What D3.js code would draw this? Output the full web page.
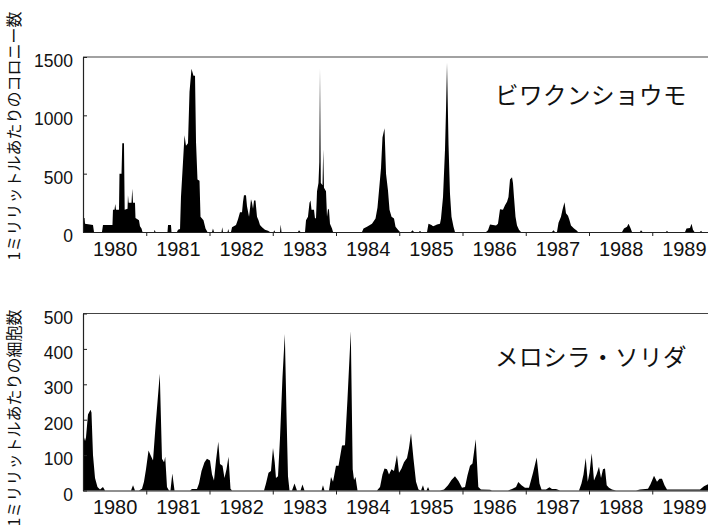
<!DOCTYPE html>
<html>
<head>
<meta charset="utf-8">
<script src="https://d3js.org/d3.v7.min.js"></script>
<style>
  body { margin: 0; background: #fff; }
  svg { display: block; background: #fff; }
  .tick text { font-family: "Liberation Sans", Arial, sans-serif; fill: #111; }
  .jp { font-family: "Noto Sans CJK JP", sans-serif; fill: #111; }
</style>
</head>
<body>
<div id="container"></div>
<script>
// ビワクンショウモ: colonies per ml (decimal year / value)
var colonyYear = [
  1980.000,1980.024,1980.032,1980.158,1980.174,1980.300,1980.316,1980.466,1980.474,1980.498,1980.510,1980.522,1980.569,1980.577,1980.609,1980.621,1980.648,1980.659,1980.704,1980.711,1980.722,1980.767,1980.779,1980.791,1980.822,1980.830,1980.885,1980.901,1980.925,1980.941,
  1981.123,1981.134,1981.146,1981.336,1981.344,1981.391,1981.399,1981.486,1981.502,1981.534,1981.549,1981.581,1981.605,1981.628,1981.660,1981.684,1981.715,1981.747,1981.771,1981.787,1981.810,1981.842,1981.858,1981.905,1981.937,1981.968,
  1982.040,1982.055,1982.071,1982.190,1982.202,1982.213,1982.285,1982.297,1982.308,1982.340,1982.356,1982.419,1982.451,1982.482,1982.514,1982.530,1982.545,1982.577,1982.593,1982.625,1982.640,1982.656,1982.672,1982.688,1982.704,1982.727,1982.751,1982.775,1982.798,1982.830,1982.877,1982.925,1982.957,
  1983.012,1983.024,1983.036,1983.115,1983.126,1983.138,1983.399,1983.415,1983.439,1983.510,1983.526,1983.557,1983.581,1983.597,1983.613,1983.652,1983.668,1983.684,1983.700,1983.723,1983.736,1983.747,1983.760,1983.787,1983.798,1983.810,1983.842,1983.858,1983.874,1983.889,1983.905,1983.937,1983.953,
  1984.411,1984.435,1984.490,1984.569,1984.625,1984.656,1984.680,1984.712,1984.735,1984.767,1984.791,1984.822,1984.846,1984.878,1984.917,1984.941,1984.980,1985.012,
  1985.186,1985.209,1985.233,1985.312,1985.328,1985.344,1985.439,1985.462,1985.510,1985.534,1985.565,1985.597,1985.644,1985.660,1985.692,1985.723,1985.739,1985.755,1985.779,1985.802,1985.826,1985.858,1985.881,
  1986.372,1986.403,1986.435,1986.482,1986.530,1986.561,1986.593,1986.640,1986.672,1986.704,1986.727,1986.751,1986.783,1986.798,1986.814,1986.838,1986.862,1986.893,1986.925,
  1987.415,1987.439,1987.462,1987.494,1987.518,1987.557,1987.581,1987.613,1987.636,1987.668,1987.692,1987.715,1987.763,1987.810,1987.826,
  1988.522,1988.553,1988.601,1988.625,1988.656,1988.680,1988.806,1988.822,1988.846,
  1989.217,1989.233,1989.249,1989.518,1989.542,1989.597,1989.621,1989.644,1989.668,1989.755,1989.771,1989.787,1990.000
];
var colonyCount = [
  120,120,70,60,0,0,60,60,190,190,240,190,190,500,500,760,760,190,200,315,250,250,370,250,250,120,100,50,30,0,
  0,20,0,0,60,60,0,0,20,25,300,600,830,740,760,1200,1400,1340,1340,770,450,440,130,100,30,0,
  0,30,0,0,40,0,0,25,0,0,40,60,110,170,170,260,315,315,220,130,200,280,250,200,270,270,130,100,60,40,20,10,0,
  0,15,0,0,65,0,0,15,0,0,100,130,250,270,190,190,115,120,350,420,600,1400,420,400,710,380,350,130,200,190,70,30,0,
  0,30,45,70,115,210,355,550,810,890,500,355,190,130,115,45,20,0,
  0,15,0,0,10,0,0,70,60,50,55,65,70,115,300,700,1040,1450,750,330,130,45,0,
  0,15,65,60,55,70,195,190,230,260,300,450,470,420,300,130,55,20,0,
  0,15,0,0,80,130,190,255,160,140,100,55,30,10,0,
  0,30,45,70,35,0,0,15,0,
  0,10,0,0,30,35,70,20,0,0,10,0,0
];

// メロシラ・ソリダ: cells per ml (decimal year / value)
var cellYear = [
  1980.000,1980.032,1980.047,1980.079,1980.119,1980.134,1980.158,1980.190,1980.229,1980.269,1980.316,1980.348,
  1980.759,1980.791,1980.822,
  1980.885,1980.933,1980.964,1980.996,1981.036,1981.067,1981.107,1981.146,1981.214,1981.249,1981.281,1981.300,1981.328,1981.360,1981.383,1981.412,1981.447,
  1981.692,1981.723,1981.802,1981.834,1981.874,1981.921,1981.960,1982.008,1982.040,1982.071,1982.103,1982.139,1982.166,1982.206,1982.237,1982.269,1982.300,1982.332,1982.356,
  1982.862,1982.893,1982.933,1982.972,1983.004,1983.031,1983.051,1983.083,1983.115,1983.154,1983.191,1983.217,1983.241,1983.265,
  1983.304,1983.344,1983.383,1983.439,1983.470,1983.502,1983.771,1983.794,1983.818,
  1983.889,1983.921,1983.953,1984.000,1984.040,1984.095,1984.142,1984.182,1984.234,1984.264,1984.285,1984.308,1984.340,
  1984.648,1984.696,1984.735,1984.767,1984.806,1984.838,1984.877,1984.917,1984.964,1984.996,1985.036,1985.075,1985.123,1985.154,1985.186,1985.225,1985.265,1985.304,1985.344,1985.375,1985.399,1985.431,1985.455,1985.478,
  1985.644,1985.708,1985.771,1985.826,1985.881,1985.937,1985.992,1986.040,1986.079,1986.119,1986.158,1986.209,1986.250,1986.292,1986.435,1986.466,
  1986.719,1986.783,1986.846,1986.882,1986.933,1986.988,1987.051,1987.115,1987.173,1987.217,1987.249,1987.320,1987.375,1987.415,1987.478,1987.542,
  1987.842,1987.881,1987.913,1987.948,1987.980,1988.008,1988.043,1988.079,1988.119,1988.158,1988.190,1988.221,1988.253,1988.280,1988.316,1988.364,1988.427,
  1988.743,1988.806,1988.933,1988.972,1989.028,1989.075,1989.115,1989.154,1989.194,1989.233,1989.755,1989.818,1989.913
];
var cellCount = [
  160,140,150,215,228,220,100,35,10,3,10,0,
  0,15,0,
  0,5,25,60,113,100,85,180,330,90,80,95,10,0,0,48,0,
  0,4,4,20,55,80,90,85,45,28,85,138,75,70,35,60,95,5,0,
  0,20,50,55,120,80,35,40,150,320,442,220,40,0,
  0,20,0,0,17,0,0,15,0,
  0,38,25,70,70,127,128,260,450,60,30,38,0,
  0,10,45,62,60,45,60,55,100,50,62,80,92,120,162,90,25,3,0,15,0,0,10,0,
  0,3,15,30,40,27,8,10,43,70,76,145,10,3,2,0,
  0,4,10,24,15,8,8,50,93,20,3,3,9,4,4,0,
  0,20,45,92,25,50,105,28,45,67,35,60,62,15,8,3,0,
  0,3,5,18,42,25,33,33,15,3,3,12,20
];

var yearLabels = [1980, 1981, 1982, 1983, 1984, 1985, 1986, 1987, 1988, 1989];
var yearBreaks = [1981, 1982, 1983, 1984, 1985, 1986, 1987, 1988, 1989];
var colonyTicks = [0, 500, 1000, 1500];
var cellTicks = [0, 100, 200, 300, 400, 500];
var panelNames = ["ビワクンショウモ", "メロシラ・ソリダ"];
var axisTitles = ["1ミリリットルあたりのコロニー数", "1ミリリットルあたりの細胞数"];

var width = 708;
var height = 526;

var svg = d3.select("#container")
            .append("svg")
            .attr("width", width)
            .attr("height", height);

var xScale = d3.scaleLinear()
               .domain([1980, 1990])
               .range([83, 715.5]);

function drawPanel(years, counts, ticks, yMax, yBottom, yTop, name, title, nameY, titleY) {
  var yScale = d3.scaleLinear()
                 .domain([0, yMax])
                 .range([yBottom, yTop]);

  var data = years.map(function(d, i) { return [d, counts[i]]; });

  var area = d3.area()
               .x(function(d) { return xScale(d[0]); })
               .y0(yBottom)
               .y1(function(d) { return yScale(d[1]); });

  svg.append("path")
     .datum(data)
     .attr("d", area)
     .attr("fill", "#000");

  // frame top line
  svg.append("line")
     .attr("x1", xScale(1980)).attr("x2", width)
     .attr("y1", yScale(yMax)).attr("y2", yScale(yMax))
     .attr("stroke", "#444")
     .attr("stroke-width", 1.2);

  // x axis: ticks at year starts, labels mid-year
  var xAxis = d3.axisBottom(xScale)
                .tickValues(yearBreaks)
                .tickSize(4)
                .tickSizeOuter(0)
                .tickFormat("");
  var gx = svg.append("g")
              .attr("transform", "translate(0," + yBottom + ")")
              .call(xAxis);
  gx.select(".domain").attr("stroke", "#222").attr("stroke-width", 1.2);
  gx.selectAll(".tick line").attr("stroke", "#222");

  var xLabels = d3.axisBottom(xScale)
                  .tickValues(yearLabels.map(function(y) { return y + 0.5; }))
                  .tickSize(0)
                  .tickFormat(function(d) { return String(Math.floor(d)); });
  var gl = svg.append("g")
              .attr("transform", "translate(0," + yBottom + ")")
              .call(xLabels);
  gl.select(".domain").remove();
  gl.selectAll("text")
    .attr("y", 23.5)
    .attr("dy", 0)
    .style("font-size", "20px");

  // y axis: inward ticks
  var yAxis = d3.axisLeft(yScale)
                .tickValues(ticks)
                .tickSize(-4)
                .tickSizeOuter(0)
                .tickPadding(10)
                .tickFormat(d3.format("d"));
  var gy = svg.append("g")
              .attr("transform", "translate(" + xScale(1980) + ",0)")
              .call(yAxis);
  gy.select(".domain").attr("stroke", "#222").attr("stroke-width", 1.2);
  gy.selectAll(".tick line").attr("stroke", "#222");
  gy.selectAll("text")
    .attr("y", 4)
    .style("font-size", "17.5px");

  svg.append("text")
     .attr("class", "jp")
     .attr("x", 495)
     .attr("y", nameY)
     .attr("dominant-baseline", "central")
     .style("font-size", "23.5px")
     .style("letter-spacing", "0.5px")
     .text(name);

  svg.append("text")
     .attr("class", "jp")
     .attr("transform", "translate(13," + titleY + ") rotate(-90)")
     .attr("text-anchor", "middle")
     .attr("dominant-baseline", "central")
     .style("font-size", "16px")
     .text(title);
}

drawPanel(colonyYear, colonyCount, colonyTicks, 1500, 232, 57, panelNames[0], axisTitles[0], 94, 136);
drawPanel(cellYear, cellCount, cellTicks, 500, 490.5, 313.5, panelNames[1], axisTitles[1], 356, 418);
</script>
</body>
</html>
